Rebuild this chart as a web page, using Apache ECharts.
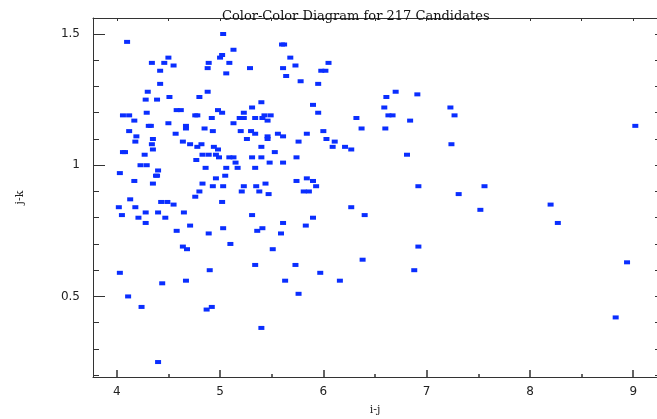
<!DOCTYPE html>
<html>
<head>
<meta charset="utf-8">
<script src="https://cdn.jsdelivr.net/npm/echarts@6/dist/echarts.min.js"></script>
<style>html,body{margin:0;padding:0;background:#fff}#c{width:657px;height:419px}</style>
</head>
<body>
<div id="c"></div>
<script>
// i-j colour (x) and j-k colour (y) of the 217 candidates
const ij = [4.10,4.50,4.34,4.46,4.55,4.89,4.88,4.42,4.42,4.30,4.88,4.51,4.80,4.28,4.39,4.58,4.62,4.29,4.06,4.12,4.17,4.76,4.78,4.92,4.31,4.33,4.50,4.67,4.67,4.85,4.93,4.12,4.57,4.19,
5.03,5.60,5.62,5.13,5.02,5.00,5.09,5.68,6.05,5.29,5.61,5.73,5.98,6.02,5.06,5.64,5.78,5.95,5.40,5.90,4.98,5.02,5.31,5.23,5.19,5.23,5.34,5.43,5.41,5.49,5.95,5.13,5.46,5.20,5.30,5.34,5.46,5.56,5.61,5.84,6.00,6.03,
4.18,4.35,4.34,4.35,4.64,4.71,4.78,4.82,4.94,4.06,4.08,4.27,4.83,4.89,4.96,4.77,4.23,4.29,4.40,4.86,4.03,4.38,4.39,4.17,4.35,4.83,4.96,4.93,4.80,4.76,4.13,4.43,4.49,4.55,4.02,4.18,4.65,4.05,4.28,4.40,4.21,4.47,4.28,4.71,4.58,4.89,4.64,4.68,
5.26,5.46,5.76,5.40,6.09,4.98,4.99,5.09,5.13,5.31,5.40,5.53,5.74,5.15,5.17,5.06,5.34,5.48,5.61,5.05,5.74,5.84,5.90,5.93,5.44,5.03,5.23,5.35,5.21,5.38,5.47,5.81,5.86,5.02,5.31,5.90,5.61,5.83,5.41,5.03,5.36,5.59,5.10,5.51,
4.03,4.44,4.67,4.90,4.11,4.24,4.87,4.92,4.40,
5.34,5.73,5.97,5.63,5.76,5.40,
6.70,6.61,6.91,6.59,7.23,6.67,6.63,7.27,6.32,6.84,6.37,6.60,9.02,6.11,6.21,6.27,7.24,6.81,6.92,7.56,7.31,
6.27,6.40,7.52,8.20,8.27,6.92,6.38,6.88,6.16,8.94,8.83];
const jk = [1.47,1.41,1.39,1.39,1.38,1.39,1.37,1.36,1.31,1.28,1.28,1.26,1.26,1.25,1.25,1.21,1.21,1.20,1.19,1.19,1.17,1.19,1.19,1.18,1.15,1.15,1.16,1.15,1.14,1.14,1.13,1.13,1.12,1.11,
1.50,1.46,1.46,1.44,1.42,1.41,1.39,1.41,1.39,1.37,1.37,1.38,1.36,1.36,1.35,1.34,1.32,1.31,1.24,1.23,1.21,1.20,1.22,1.20,1.18,1.18,1.18,1.19,1.18,1.19,1.20,1.16,1.17,1.13,1.13,1.12,1.11,1.12,1.11,1.12,1.13,1.10,
1.09,1.10,1.08,1.06,1.09,1.08,1.07,1.08,1.07,1.05,1.05,1.04,1.04,1.04,1.04,1.02,1.00,1.00,0.98,0.99,0.97,0.96,0.96,0.94,0.93,0.93,0.95,0.92,0.90,0.88,0.87,0.86,0.86,0.85,0.84,0.84,0.82,0.81,0.82,0.82,0.80,0.80,0.78,0.77,0.75,0.74,0.69,0.68,
1.10,1.10,1.09,1.07,1.07,1.06,1.03,1.03,1.03,1.03,1.03,1.05,1.03,1.01,0.99,0.99,0.99,1.01,1.01,0.96,0.94,0.95,0.94,0.92,0.93,0.92,0.92,0.92,0.90,0.90,0.89,0.90,0.90,0.86,0.81,0.80,0.78,0.77,0.76,0.76,0.75,0.74,0.70,0.68,
0.59,0.55,0.56,0.60,0.50,0.46,0.45,0.46,0.25,
0.62,0.62,0.59,0.56,0.51,0.38,
1.28,1.26,1.27,1.22,1.22,1.19,1.19,1.19,1.18,1.17,1.14,1.14,1.15,1.09,1.07,1.06,1.08,1.04,0.92,0.92,0.89,
0.84,0.81,0.83,0.85,0.78,0.69,0.64,0.60,0.56,0.63,0.42];

const xMajor = [4,5,6,7,8,9];
const xMinor = [4.5,5.5,6.5,7.5,8.5];
const yMajor = [0.5,1,1.5];
const yMinor = [0.2,0.3,0.4,0.6,0.7,0.8,0.9,1.1,1.2,1.3,1.4];
const xRange = [3.77,9.23];
const yRange = [0.193,1.561];

const points = ij.map((v,i)=>[v,jk[i]]);
const axisCol = '#333';
const chart = echarts.init(document.getElementById('c'), null, {renderer:'canvas'});
const baseX = {type:'value', min:xRange[0], max:xRange[1], splitLine:{show:false}};
const baseY = {type:'value', min:yRange[0], max:yRange[1], splitLine:{show:false}};
chart.setOption({
  animation:false,
  backgroundColor:'#fff',
  title:{text:'Color-Color Diagram for 217 Candidates', left:217, top:5,
    textStyle:{fontFamily:'DejaVu Serif', fontWeight:'normal', fontSize:13, color:'#111'}},
  grid:{left:93, right:0, top:18, bottom:42, containLabel:false, outerBoundsMode:'none'},
  xAxis:[
    Object.assign({}, baseX, {position:'bottom', name:'i-j', nameLocation:'middle', nameGap:28,
      nameTextStyle:{fontFamily:'DejaVu Serif', fontSize:11, color:'#222'},
      axisLine:{show:true, lineStyle:{color:axisCol, width:1}},
      axisTick:{show:true, inside:true, length:7, customValues:xMajor, lineStyle:{color:axisCol, width:1.5}},
      axisLabel:{show:true, customValues:xMajor, margin:9, fontFamily:'DejaVu Sans', fontSize:12, color:'#222'}}),
    Object.assign({}, baseX, {position:'bottom', axisLine:{show:false},
      axisTick:{show:true, inside:true, length:3, customValues:xMinor, lineStyle:{color:axisCol, width:1.5}},
      axisLabel:{show:false}}),
    Object.assign({}, baseX, {position:'top', axisLine:{show:true, lineStyle:{color:axisCol, width:1}},
      axisTick:{show:true, inside:true, length:3, customValues:xMajor.concat(xMinor), lineStyle:{color:axisCol}},
      axisLabel:{show:false}})
  ],
  yAxis:[
    Object.assign({}, baseY, {position:'left', name:'j-k', nameLocation:'middle', nameGap:67, nameRotate:90,
      nameTextStyle:{fontFamily:'DejaVu Serif', fontSize:11, color:'#222'},
      axisLine:{show:true, lineStyle:{color:axisCol, width:1}},
      axisTick:{show:true, inside:true, length:12, customValues:yMajor, lineStyle:{color:axisCol}},
      axisLabel:{show:true, customValues:yMajor, margin:13, fontFamily:'DejaVu Sans', fontSize:12, color:'#222'}}),
    Object.assign({}, baseY, {position:'left', axisLine:{show:false},
      axisTick:{show:true, inside:true, length:6, customValues:yMinor, lineStyle:{color:axisCol}},
      axisLabel:{show:false}}),
    Object.assign({}, baseY, {position:'right', axisLine:{show:false},
      axisTick:{show:true, inside:true, length:2, customValues:yMajor.concat(yMinor), lineStyle:{color:axisCol}},
      axisLabel:{show:false}})
  ],
  series:[{type:'scatter', xAxisIndex:0, yAxisIndex:0, data:points, symbol:'rect', symbolSize:[6,4],
    itemStyle:{color:'#0a2eff', opacity:1}, emphasis:{disabled:true}, silent:true}]
});
</script>
</body>
</html>
